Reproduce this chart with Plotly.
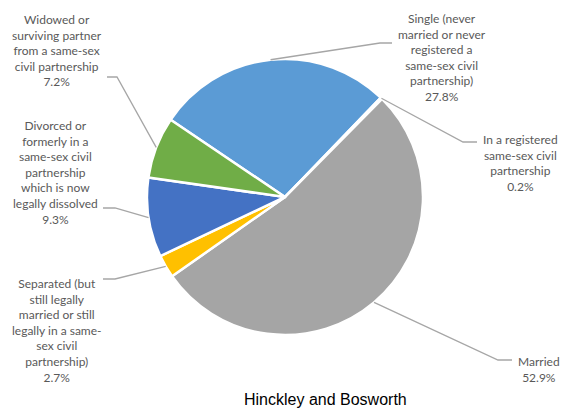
import math
import plotly.graph_objects as go

# ---- data ----
categories = [
    "Single (never<br>married or never<br>registered a<br>same-sex civil<br>partnership)",
    "In a registered<br>same-sex civil<br>partnership",
    "Married",
    "Separated (but<br>still legally<br>married or still<br>legally in a same-<br>sex civil<br>partnership)",
    "Divorced or<br>formerly in a<br>same-sex civil<br>partnership<br>which is now<br>legally dissolved",
    "Widowed or<br>surviving partner<br>from a same-sex<br>civil partnership",
]
values = [27.8, 0.2, 52.9, 2.7, 9.3, 7.2]
colors = ["#5B9BD5", "#ED7D31", "#A5A5A5", "#FFC000", "#4472C4", "#70AD47"]
title_text = "Hinckley and Bosworth"

# ---- layout constants (pixels) ----
W, H = 561, 414
CX, CY, R = 285, 197, 138
ROT = 304
# label centres, leader elbow and end points
label_pos = [(442, 58), (520, 163), (539, 369.5), (57, 330), (55, 172), (57, 50.5)]
elbows = [(380, 43), (463, 142), (498, 360), (115, 279), (115, 208), (117, 77)]
ends = [(392, 43), (477, 142), (512, 360), (103, 279), (103, 208), (107, 77)]


def px(x):
    return x / W


def py(y):
    return 1 - y / H


fig = go.Figure(go.Pie(
    labels=[c.replace("<br>", " ") for c in categories],
    values=values,
    sort=False,
    direction="clockwise",
    rotation=ROT,
    marker=dict(colors=colors, line=dict(color="white", width=2.5)),
    textinfo="none",
    hoverinfo="label+percent",
    showlegend=False,
    domain=dict(x=[px(CX - R), px(CX + R)], y=[py(CY + R), py(CY - R)]),
))

total = sum(values)
annotations = []
shapes = []
cum = 0.0
for i, v in enumerate(values):
    mid = math.radians(ROT + (cum + v / 2) / total * 360)
    cum += v
    sx = CX + R * math.sin(mid)
    sy = CY - R * math.cos(mid)
    ex, ey = elbows[i]
    fx, fy = ends[i]
    shapes.append(dict(
        type="path", xref="paper", yref="paper",
        path=f"M {px(sx)},{py(sy)} L {px(ex)},{py(ey)} L {px(fx)},{py(fy)}",
        line=dict(color="#A6A6A6", width=1.3),
    ))
    lx, ly = label_pos[i]
    annotations.append(dict(
        x=px(lx), y=py(ly), xref="paper", yref="paper",
        text=f"{categories[i]}<br>{v:.1f}%",
        showarrow=False, align="center", xanchor="center", yanchor="middle",
        font=dict(family="Lato, 'Open Sans', sans-serif", size=12, color="#595959"),
    ))

annotations.append(dict(
    x=px(325), y=py(399), xref="paper", yref="paper",
    text=title_text, showarrow=False, xanchor="center", yanchor="middle",
    font=dict(family="'Liberation Sans', Arial, sans-serif", size=16, color="#000000"),
))

fig.update_layout(
    width=W, height=H,
    margin=dict(l=0, r=0, t=0, b=0),
    paper_bgcolor="white",
    plot_bgcolor="white",
    annotations=annotations,
    shapes=shapes,
)

fig.write_html("out.html", config={"displayModeBar": False},
               post_script="document.body.style.margin='0';")
